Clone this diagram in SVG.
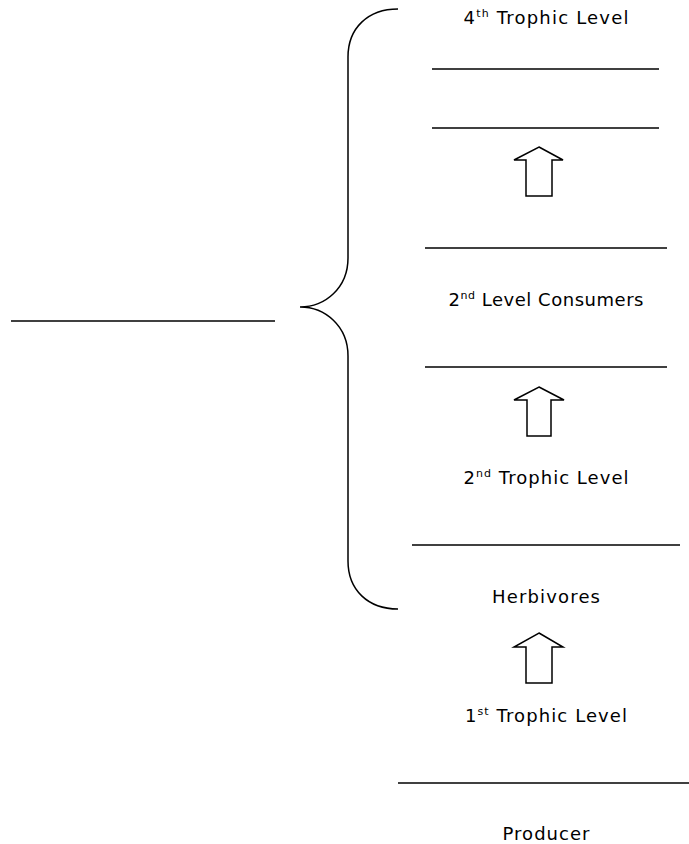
<svg xmlns="http://www.w3.org/2000/svg" width="689" height="844" viewBox="0 0 689 844">
<style>
text{font-family:"Comic Sans MS","DejaVu Sans",sans-serif;font-size:18px;fill:#000;text-anchor:middle}
.sup{font-size:11px}
.blank{stroke:#000;stroke-width:1.3;fill:none}
.arrow{stroke:#000;stroke-width:1.5;fill:#fff;stroke-linejoin:miter}
.brace{stroke:#000;stroke-width:1.5;fill:none}
</style>
<rect width="689" height="844" fill="#fff"/>
<g id="brace"><path class="brace" d="M 398 9 C 368 9, 348 28, 348 57 L 348 258 C 348 288, 325 307, 300 307 C 325 307, 348 326, 348 356 L 348 561 C 348 590, 368 609, 398 609"/></g>
<g id="answer-blank"><line class="blank" x1="11" y1="321" x2="275" y2="321"/></g>
<g id="level4"><text x="546" y="24" textLength="165" lengthAdjust="spacing">4<tspan class="sup" dy="-7">th</tspan><tspan dy="7"> Trophic Level</tspan></text></g>
<g id="blank1"><line class="blank" x1="432" y1="69" x2="659" y2="69"/></g>
<g id="blank2"><line class="blank" x1="432" y1="128" x2="659" y2="128"/></g>
<g id="blank3"><line class="blank" x1="425" y1="248" x2="667" y2="248"/></g>
<g id="consumers2"><text x="546" y="306" textLength="195" lengthAdjust="spacing">2<tspan class="sup" dy="-7">nd</tspan><tspan dy="7"> Level Consumers</tspan></text></g>
<g id="blank4"><line class="blank" x1="425" y1="367" x2="667" y2="367"/></g>
<g id="level2"><text x="546" y="484" textLength="165" lengthAdjust="spacing">2<tspan class="sup" dy="-7">nd</tspan><tspan dy="7"> Trophic Level</tspan></text></g>
<g id="blank5"><line class="blank" x1="412" y1="545" x2="680" y2="545"/></g>
<g id="herbivores"><text x="546" y="603" textLength="108" lengthAdjust="spacing">Herbivores</text></g>
<g id="level1"><text x="546" y="722" textLength="162" lengthAdjust="spacing">1<tspan class="sup" dy="-7">st</tspan><tspan dy="7"> Trophic Level</tspan></text></g>
<g id="blank6"><line class="blank" x1="398" y1="783" x2="689" y2="783"/></g>
<g id="producer"><text x="546" y="840" textLength="87" lengthAdjust="spacing">Producer</text></g>
<g id="connectors">
<path class="arrow" d="M 539 147 L 563 160 L 552 160 L 552 196 L 526 196 L 526 160 L 514 160 Z"/>
<path class="arrow" d="M 539 387 L 564 400 L 551 400 L 551 436 L 527 436 L 527 400 L 514 400 Z"/>
<path class="arrow" d="M 539 633 L 563 647 L 552 647 L 552 683 L 526 683 L 526 647 L 514 647 Z"/>
</g>
</svg>
